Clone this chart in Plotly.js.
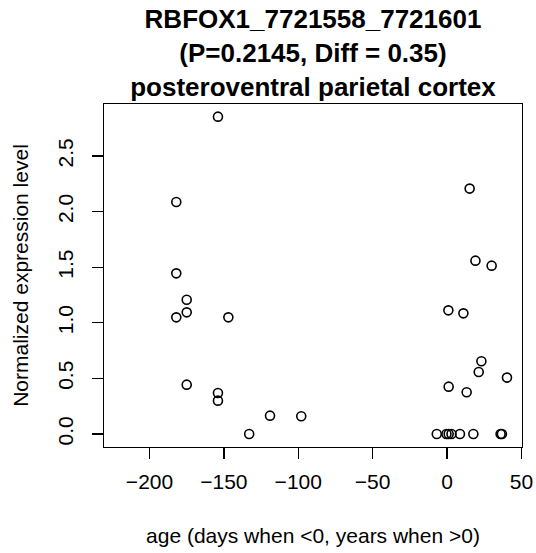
<!DOCTYPE html>
<html>
<head>
<meta charset="utf-8">
<script src="https://cdn.plot.ly/plotly-3.0.1.min.js"></script>
<style>html,body{margin:0;padding:0;background:#fff;}</style>
</head>
<body>
<div id="chart" style="width:536px;height:553px;"></div>
<script>
// ages (days when <0, years when >0)
const prenatalAge = [-154, -182, -182, -175, -175, -182, -147, -175, -154, -154, -133, -119, -98];
const prenatalExpr = [2.854, 2.086, 1.445, 1.208, 1.094, 1.049, 1.049, 0.444, 0.369, 0.300, 0.0, 0.165, 0.159];
const postnatalAge = [15.2, 19.1, 30.0, 0.9, 11.0, 23.1, 21.3, 40.3, 1.1, 13.2, -6.9, -0.4, 1.1, 3.0, 8.7, 17.7, 36.0, 36.9];
const postnatalExpr = [2.207, 1.559, 1.514, 1.112, 1.085, 0.654, 0.558, 0.507, 0.426, 0.375, 0, 0, 0, 0, 0, 0, 0, 0];
const xTicks = [-200, -150, -100, -50, 0, 50];
const yTicks = [0.0, 0.5, 1.0, 1.5, 2.0, 2.5];
const yTickText = ['0.0', '0.5', '1.0', '1.5', '2.0', '2.5'];
const titleLines = ['RBFOX1_7721558_7721601', '(P=0.2145, Diff = 0.35)', 'posteroventral parietal cortex'];

const ages = prenatalAge.concat(postnatalAge);
const expr = prenatalExpr.concat(postnatalExpr);

const font = 'Liberation Sans, Arial, Helvetica, sans-serif';

const trace = {
  x: ages, y: expr, type: 'scatter', mode: 'markers',
  marker: {symbol: 'circle-open', size: 9, color: 'black', line: {width: 1.6, color: 'black'}},
  hoverinfo: 'x+y'
};

const layout = {
  width: 536, height: 553,
  margin: {l: 104, r: 14, t: 104, b: 106, pad: 0},
  paper_bgcolor: 'white', plot_bgcolor: 'white',
  showlegend: false,
  font: {family: font, color: 'black', size: 21},
  title: {
    text: '<b>' + titleLines.join('<br>') + '</b>',
    font: {family: font, size: 26, color: 'black'},
    xref: 'paper', x: 0.5, xanchor: 'center',
    yref: 'paper', y: 1, yanchor: 'bottom',
    pad: {b: 76}
  },
  xaxis: {
    range: [-230.6, 50.4], tickvals: xTicks, ticktext: xTicks.map(v => v < 0 ? '\u2212' + Math.abs(v) : String(v)),
    ticks: 'outside', ticklen: 11, tickwidth: 1.2, tickcolor: 'black',
    showline: true, linecolor: 'black', linewidth: 1.2, mirror: true,
    showgrid: false, zeroline: false,
    tickfont: {size: 21, family: font}, ticklabelstandoff: 5,
    title: {text: 'age (days when <0, years when >0)', font: {size: 21, family: font}, standoff: 35}
  },
  yaxis: {
    range: [-0.117, 2.968], tickvals: yTicks, ticktext: yTickText,
    ticks: 'outside', ticklen: 11, tickwidth: 1.2, tickcolor: 'black',
    showline: true, linecolor: 'black', linewidth: 1.2, mirror: true,
    showgrid: false, zeroline: false, tickangle: -90,
    tickfont: {size: 21, family: font}, ticklabelstandoff: 10,
    title: {text: 'Normalized expression level', font: {size: 21, family: font}, standoff: 20}
  }
};

Plotly.newPlot('chart', [trace], layout, {staticPlot: true, displayModeBar: false});
</script>
</body>
</html>
